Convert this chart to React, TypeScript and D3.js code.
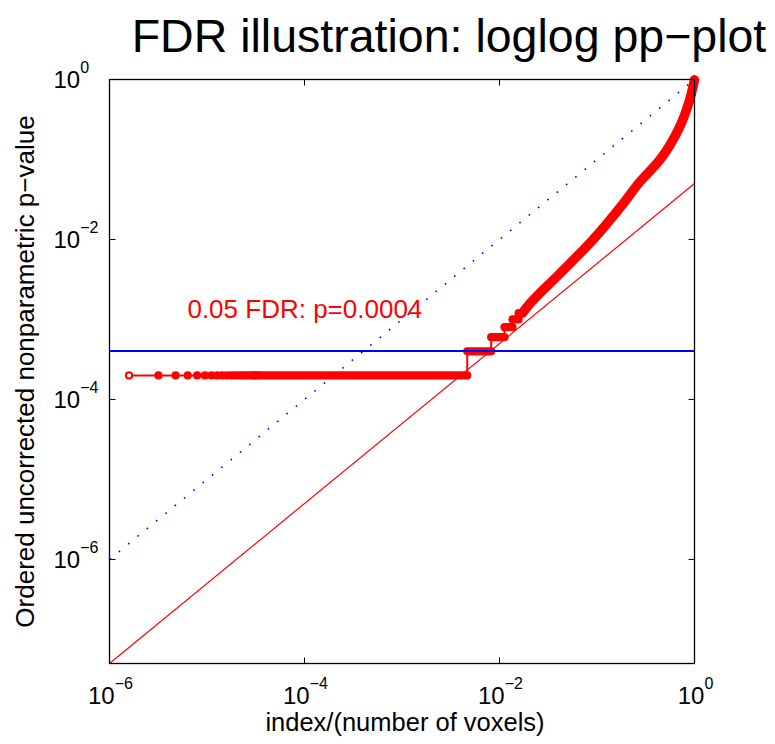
import { useRef, useEffect } from "react";
import * as d3 from "d3";

// values
const N_VOXELS = 630000;
const plateauRanks = [1, 2, 3, 4, 5, 6, 7, 8, 9, 10, 11, 12, 13, 14, 15, 16, 17, 18, 19, 20];
const stepP = [0.0002, 0.0004, 0.0006, 0.0008, 0.001, 0.0012];
const stepEnd = [0.00467, 0.00822, 0.01125, 0.0136, 0.0157, 0.0172];
const tailX = [0.0189, 0.0412, 0.0899, 0.187, 0.273, 0.438, 0.701, 0.889, 1];
const tailP = [0.0014, 0.0037, 0.0098, 0.0284, 0.0519, 0.0977, 0.252, 0.547, 0.99];
const xTicks = [1e-6, 1e-4, 1e-2, 1];
const yTicks = [1e-6, 1e-4, 1e-2, 1];
const tickExponents = ["\u22126", "\u22124", "\u22122", "0"];
const FDR_Q = 0.05;
const FDR_THRESHOLD = 0.0004;

const TITLE = "FDR illustration: loglog pp\u2212plot";
const X_LABEL = "index/(number of voxels)";
const Y_LABEL = "Ordered uncorrected nonparametric p\u2212value";
const NOTE = "0.05 FDR: p=0.0004";

const FONT = "'Liberation Sans', Arial, Helvetica, sans-serif";

export default function App() {
  const ref = useRef<SVGSVGElement | null>(null);

  const width = 775;
  const height = 744;
  const margin = { top: 79.5, right: 80.5, bottom: 80.5, left: 109.5 };

  useEffect(() => {
    const svg = d3.select(ref.current);
    svg.selectAll("*").remove();

    const x = d3.scaleLog().domain([1e-6, 1]).range([margin.left, width - margin.right]);
    const y = d3.scaleLog().domain([FDR_Q * 1e-6, 1]).range([height - margin.bottom, margin.top]);
    const [x0, x1] = x.range();
    const [yb, yt] = y.range();

    const g = svg.append("g");
    const red = "#ff0000";
    const blue = "#0000ff";

    // thin connecting line through every drawn point
    const connect: [number, number][] = plateauRanks.map((r) => [r / N_VOXELS, stepP[0]]);
    stepP.forEach((p, i) => {
      if (i > 0) connect.push([stepEnd[i - 1], p]);
      connect.push([stepEnd[i], p]);
    });
    tailX.forEach((t, i) => connect.push([t, tailP[i]]));

    const line = d3
      .line<[number, number]>()
      .x((d) => x(d[0]))
      .y((d) => y(d[1]));

    g.append("path")
      .attr("d", line(connect))
      .attr("fill", "none")
      .attr("stroke", red)
      .attr("stroke-width", 2);

    // plateaus of tied p-values (dense markers merge into a band)
    stepP.forEach((p, i) => {
      const start = i === 0 ? plateauRanks[plateauRanks.length - 1] / N_VOXELS : stepEnd[i - 1];
      g.append("line")
        .attr("x1", x(start))
        .attr("x2", x(stepEnd[i]))
        .attr("y1", y(p))
        .attr("y2", y(p))
        .attr("stroke", red)
        .attr("stroke-width", 8.2)
        .attr("stroke-linecap", "round");
    });

    // upper tail band
    const tail: [number, number][] = [[stepEnd[stepEnd.length - 1], stepP[stepP.length - 1]]];
    tailX.forEach((t, i) => tail.push([t, tailP[i]]));
    g.append("path")
      .attr("d", line.curve(d3.curveMonotoneY)(tail))
      .attr("fill", "none")
      .attr("stroke", red)
      .attr("stroke-width", 9.5)
      .attr("stroke-linecap", "round")
      .attr("stroke-linejoin", "round");

    // individual markers of the lowest ranks
    g.selectAll(".dot")
      .data(plateauRanks)
      .enter()
      .append("circle")
      .attr("class", "dot")
      .attr("cx", (r) => x(r / N_VOXELS))
      .attr("cy", y(stepP[0]))
      .attr("r", 3.1)
      .attr("fill", (r) => (r === 1 ? "#ffffff" : red))
      .attr("stroke", red)
      .attr("stroke-width", 2);

    // reference lines
    g.append("line")
      .attr("x1", x0)
      .attr("x2", x1)
      .attr("y1", y(1e-6 * FDR_Q))
      .attr("y2", y(1 * FDR_Q))
      .attr("stroke", red)
      .attr("stroke-width", 1.2);

    const yThr = Math.round(y(FDR_THRESHOLD));
    g.append("line")
      .attr("x1", x0)
      .attr("x2", x1)
      .attr("y1", yThr)
      .attr("y2", yThr)
      .attr("stroke", blue)
      .attr("stroke-width", 2);

    g.append("line")
      .attr("x1", x(1e-6))
      .attr("x2", x(1))
      .attr("y1", y(1e-6))
      .attr("y2", y(1))
      .attr("stroke", blue)
      .attr("stroke-width", 1.6)
      .attr("stroke-dasharray", "1.6,10.45");

    // annotation
    g.append("text")
      .attr("x", x(6.3e-6))
      .attr("y", y(0.00105))
      .attr("fill", red)
      .attr("font-family", FONT)
      .attr("font-size", 26)
      .text(NOTE);

    // axes box
    const axes = svg.append("g");
    axes
      .append("rect")
      .attr("x", x0)
      .attr("y", yt)
      .attr("width", x1 - x0)
      .attr("height", yb - yt)
      .attr("fill", "none")
      .attr("stroke", "#000")
      .attr("stroke-width", 1.3);

    const tl = 6;
    xTicks.forEach((t, i) => {
      axes.append("line").attr("x1", x(t)).attr("x2", x(t)).attr("y1", yb).attr("y2", yb - tl).attr("stroke", "#000");
      axes.append("line").attr("x1", x(t)).attr("x2", x(t)).attr("y1", yt).attr("y2", yt + tl).attr("stroke", "#000");
      const lab = axes
        .append("text")
        .attr("x", x(t) + 1)
        .attr("y", yb + 40.5)
        .attr("text-anchor", "middle")
        .attr("font-family", FONT)
        .attr("font-size", 24);
      lab.append("tspan").text("10");
      lab.append("tspan").attr("dy", -15).attr("font-size", 16).text(tickExponents[i]);
    });
    yTicks.forEach((t, i) => {
      axes.append("line").attr("x1", x0).attr("x2", x0 + tl).attr("y1", y(t)).attr("y2", y(t)).attr("stroke", "#000");
      axes.append("line").attr("x1", x1).attr("x2", x1 - tl).attr("y1", y(t)).attr("y2", y(t)).attr("stroke", "#000");
      const lab = axes
        .append("text")
        .attr("x", x0 - 56)
        .attr("y", y(t) + 8.5)
        .attr("text-anchor", "start")
        .attr("font-family", FONT)
        .attr("font-size", 24);
      lab.append("tspan").text("10");
      lab.append("tspan").attr("dy", -15).attr("font-size", 16).text(tickExponents[i]);
    });

    // title and axis labels
    svg.append("text")
      .attr("x", 449)
      .attr("y", 52)
      .attr("text-anchor", "middle")
      .attr("font-family", FONT)
      .attr("font-size", 46.5)
      .text(TITLE);

    svg.append("text")
      .attr("x", (x0 + x1) / 2 + 3)
      .attr("y", 731)
      .attr("text-anchor", "middle")
      .attr("font-family", FONT)
      .attr("font-size", 25.5)
      .text(X_LABEL);

    svg.append("text")
      .attr("transform", `translate(34, ${(yt + yb) / 2}) rotate(-90)`)
      .attr("text-anchor", "middle")
      .attr("font-family", FONT)
      .attr("font-size", 26)
      .text(Y_LABEL);
  }, []);

  return (
    <svg
      ref={ref}
      width={width}
      height={height}
      style={{ position: "absolute", left: 0, top: 0, background: "#fff" }}
    />
  );
}
